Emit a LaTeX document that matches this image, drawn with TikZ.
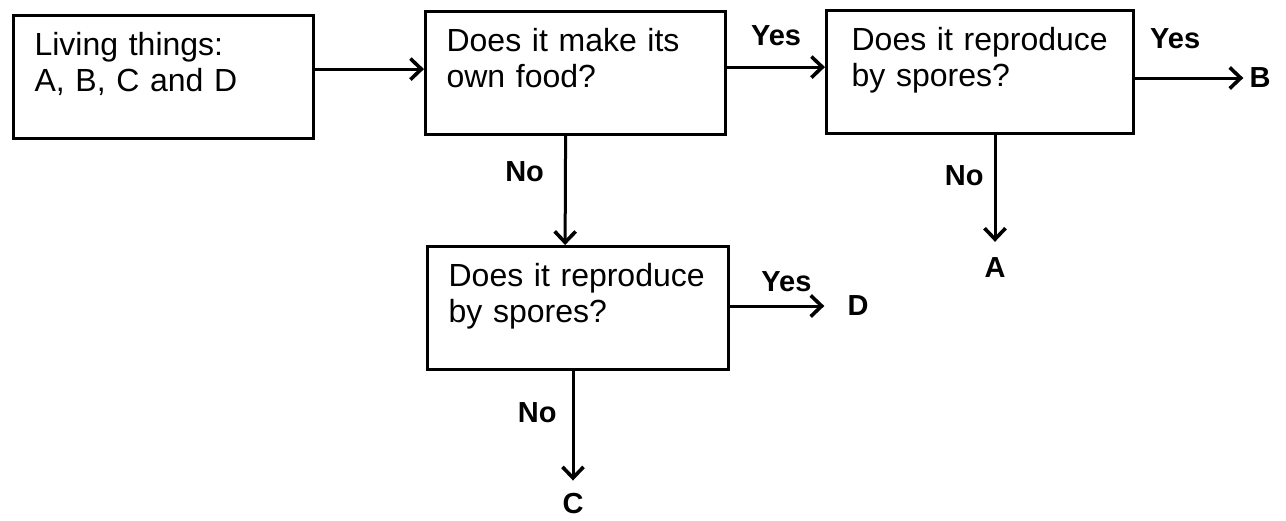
\documentclass[tikz,border=0pt]{standalone}
\usepackage{fontspec}
\setmainfont{Liberation Sans}
\usetikzlibrary{arrows.meta}

\begin{document}
\begin{tikzpicture}[x=1pt,y=-1pt]
\tikzset{question/.style={draw, line width=3.2pt, anchor=north west, align=left,
    text width=258pt, inner xsep=21pt, inner ysep=0pt,
    text height=40pt, text depth=83pt, font=\fontsize{32}{36}\selectfont}}
\tikzset{answer/.style={inner sep=0pt, font=\fontsize{29}{34}\selectfont\bfseries}}
\tikzset{arr/.style={line width=3pt, -{Straight Barb[length=11pt,width=21pt,line width=3.6pt]}}}
\useasboundingbox (0,0) rectangle (1286,520);

% boxes
\node[question] (living) at (12,14) {Living things:\\A, B, C and D};
\node[question] (food) at (424,10) {Does it make its\\own food?};
\node[question, inner xsep=25pt, text width=257pt] (spores1) at (825,9) {Does it reproduce\\by spores?};
\node[question, text width=259pt] (spores2) at (426,245) {Does it reproduce\\by spores?};

% end points
\node[answer] (b) at (1260,78) {B};
\node[answer] (a) at (995,268) {A};
\node[answer] (d) at (858,306) {D};
\node[answer] (c) at (573,504) {C};

% arrows
\draw[arr] ([yshift=8pt]living.east) -- ([yshift=4pt]food.west);
\draw[arr] ([yshift=6pt]food.east) -- ([yshift=5pt]spores1.west)
    node[answer, midway, above=20pt] (yes1) {Yes};
\draw[arr] ([xshift=-10pt]food.south) -- ([xshift=-13pt]spores2.north)
    node[answer, pos=0.33, left=20pt] (no1) {No};
\draw[arr, shorten >=6pt] (spores1.east |- b) -- (b)
    node[answer, pos=0.35, above=28pt] (yes2) {Yes};
\draw[arr, shorten >=16pt] (spores1.south -| a) -- (a)
    node[answer, pos=0.33, left=10pt] (no2) {No};
\draw[arr, shorten >=23pt] (spores2.east |- d) -- (d)
    node[answer, pos=0.48, above=13pt] (yes3) {Yes};
\draw[arr, shorten >=13pt] (spores2.south -| c) -- (c)
    node[answer, pos=0.34, left=15pt] (no3) {No};
\end{tikzpicture}
\end{document}
